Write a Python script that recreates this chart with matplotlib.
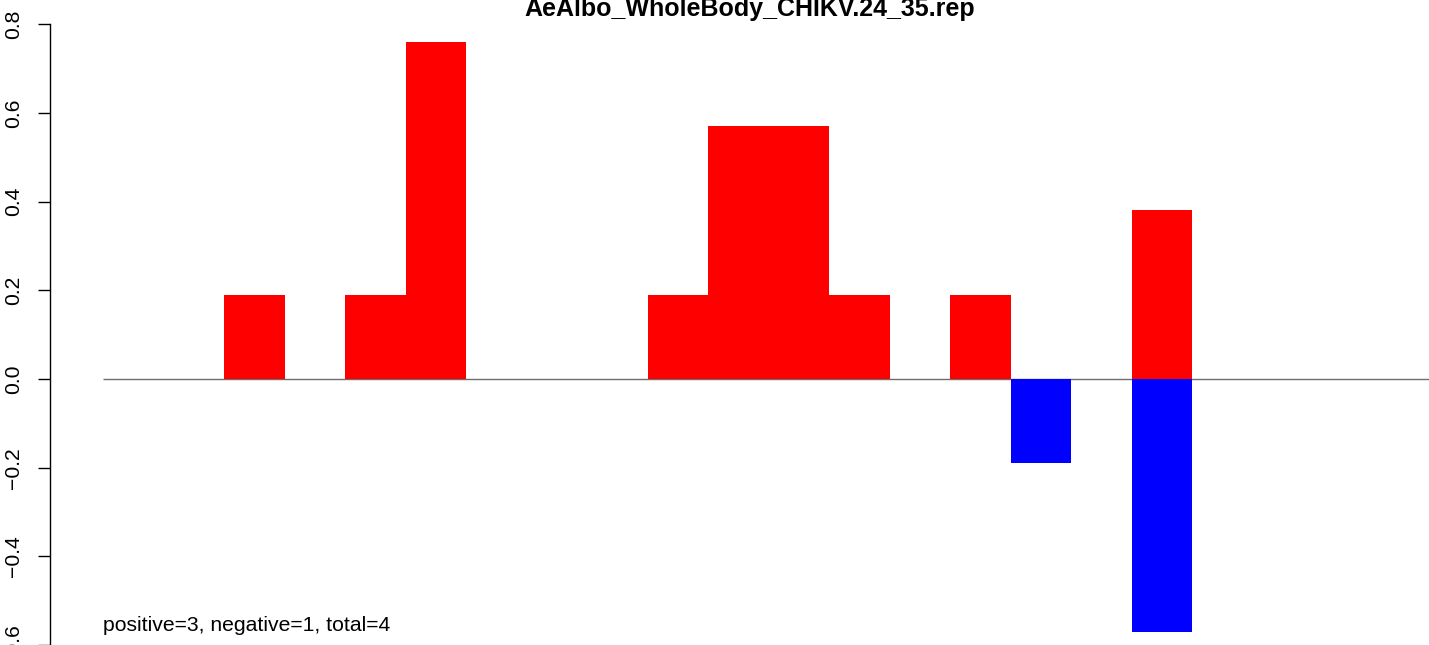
import matplotlib
matplotlib.use("Agg")
import matplotlib.pyplot as plt

# per-position values (22 positions), red = positive, blue = negative
POSITIONS = list(range(22))
POS_VALUES = [0, 0, 0.19, 0, 0.19, 0.76, 0, 0, 0, 0.19, 0.57,
              0.57, 0.19, 0, 0.19, 0, 0, 0.38, 0, 0, 0, 0]
NEG_VALUES = [0, 0, 0, 0, 0, 0, 0, 0, 0, 0, 0,
              0, 0, 0, 0, -0.19, 0, -0.57, 0, 0, 0, 0]
Y_TICKS = [-0.6, -0.4, -0.2, 0.0, 0.2, 0.4, 0.6, 0.8]
TITLE = "AeAlbo_WholeBody_CHIKV.24_35.rep"
NOTE = "positive=3, negative=1, total=4"

plt.rcParams["font.family"] = ["Liberation Sans", "DejaVu Sans"]

W, H = 1429, 645
fig = plt.figure(figsize=(W / 100, H / 100), dpi=100)
# axes starts at the y-axis line (px 50), runs past the right edge
ax = fig.add_axes([50 / W, 0, 1 - 50 / W, 1])
ax.set_xlim(-0.876, 21.917)
ax.set_ylim(-0.5835, 0.8546)

ax.hlines(0, 0, 22, color="#6e6e6e", lw=1.0, zorder=1)
ax.bar(POSITIONS, POS_VALUES, width=1, align="edge", color="#ff0000", lw=0, zorder=2)
ax.bar(POSITIONS, NEG_VALUES, width=1, align="edge", color="#0000ff", lw=0, zorder=2)

for s in ["top", "right", "bottom"]:
    ax.spines[s].set_visible(False)
ax.spines["left"].set_bounds(-0.6, 0.8)
ax.spines["left"].set_linewidth(1.0)
ax.set_xticks([])
ax.set_yticks(Y_TICKS)
ax.set_yticklabels([f"{t:.1f}".replace("-", "\u2212") for t in Y_TICKS],
                   rotation=90, va="center", fontsize=15.2)
ax.tick_params(axis="y", length=8.6, width=1.0, pad=11)

fig.text(750 / W, 1 - 16 / H, TITLE, ha="center", va="baseline",
         fontsize=18, fontweight="bold")
ax.text(0, -0.5695, NOTE, ha="left", va="baseline", fontsize=15.2)

fig.savefig("out.png", dpi=100)
